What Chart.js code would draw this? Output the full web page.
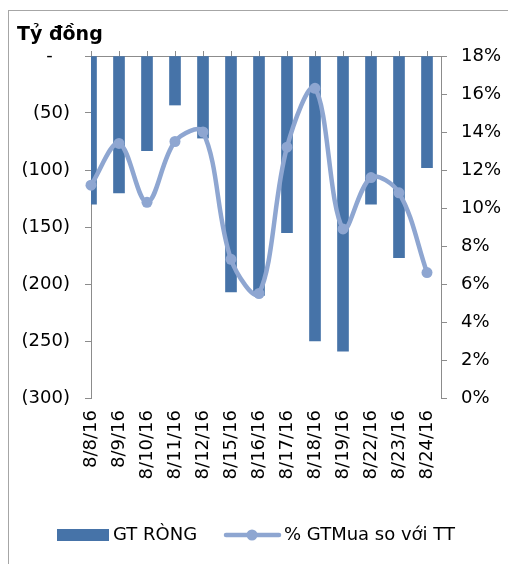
<!DOCTYPE html>
<html>
<head>
<meta charset="utf-8">
<script src="https://cdn.jsdelivr.net/npm/chart.js@4"></script>
<style>
  html, body { margin: 0; padding: 0; background: #fff; }
  #wrap { width: 508px; height: 564px; position: relative; }
</style>
</head>
<body>
<div id="wrap"><canvas id="c" width="508" height="564"></canvas></div>
<script>
const dates = ["8/8/16", "8/9/16", "8/10/16", "8/11/16", "8/12/16", "8/15/16", "8/16/16",
  "8/17/16", "8/18/16", "8/19/16", "8/22/16", "8/23/16", "8/24/16"];
const gtRong = [-130, -120, -83, -43, -72, -207, -210, -155, -250, -259, -130, -177, -98];
const pctMua = [11.2, 13.4, 10.3, 13.5, 14.0, 7.3, 5.5, 13.2, 16.3, 8.9, 11.6, 10.8, 6.6];

const barColor = "#4673a8";
const lineColor = "#8ea6d1";
const axisColor = "#8c8c8c";
const FONT = "DejaVu Sans";

function fmtLeft(v) {
  if (v === 0) return "-\u2007\u2008";
  return "(" + Math.abs(v) + ")";
}

const frame = {
  id: "frame",
  beforeDraw(chart) {
    const ctx = chart.ctx;
    ctx.save();
    ctx.fillStyle = "#fff";
    ctx.fillRect(0, 0, chart.width, chart.height);
    ctx.strokeStyle = "#a6a6a6";
    ctx.lineWidth = 1;
    ctx.strokeRect(8.5, 10.5, chart.width + 20, chart.height + 20);
    ctx.restore();
  },
  afterDraw(chart) {
    const ctx = chart.ctx;
    ctx.save();
    ctx.fillStyle = "#000";
    ctx.font = "bold 19px '" + FONT + "'";
    ctx.textBaseline = "middle";
    ctx.fillText("Tỷ đồng", 17, 35);

    // legend
    ctx.font = "18px '" + FONT + "'";
    ctx.fillStyle = barColor;
    ctx.fillRect(57, 529, 52, 12);
    ctx.fillStyle = "#000";
    ctx.fillText("GT RÒNG", 113, 535);
    ctx.strokeStyle = lineColor;
    ctx.lineWidth = 4.5;
    ctx.lineCap = "round";
    ctx.beginPath();
    ctx.moveTo(226, 535);
    ctx.lineTo(279, 535);
    ctx.stroke();
    ctx.fillStyle = lineColor;
    ctx.beginPath();
    ctx.arc(252, 535, 5.5, 0, Math.PI * 2);
    ctx.fill();
    ctx.fillStyle = "#000";
    ctx.fillText("% GTMua so với TT", 284, 535);
    ctx.restore();
  }
};

new Chart(document.getElementById("c"), {
  type: "bar",
  data: {
    datasets: [
      {
        type: "line",
        label: "% GTMua so với TT",
        data: dates.map((d, i) => ({ x: i, y: pctMua[i] })),
        xAxisID: "x",
        yAxisID: "y2",
        borderColor: lineColor,
        backgroundColor: lineColor,
        borderWidth: 4.5,
        pointRadius: 5.5,
        pointBorderWidth: 0,
        tension: 0.35,
        clip: false,
        order: 0
      },
      {
        label: "GT RÒNG",
        data: dates.map((d, i) => ({ x: i, y: gtRong[i] })),
        xAxisID: "x",
        yAxisID: "y",
        backgroundColor: barColor,
        barThickness: 11,
        clip: 0,
        order: 1
      }
    ]
  },
  options: {
    responsive: false,
    animation: false,
    layout: { padding: 0 },
    plugins: { legend: { display: false }, tooltip: { enabled: false } },
    scales: {
      x: {
        type: "linear",
        position: "bottom",
        min: 0,
        max: 12.5,
        offset: false,
        afterBuildTicks(s) { s.ticks = dates.map((d, i) => ({ value: i })); },
        afterFit(s) { s.height = 166; },
        ticks: {
          autoSkip: false,
          minRotation: 90,
          maxRotation: 90,
          padding: 12,
          color: "#000",
          font: { family: FONT, size: 18 },
          callback: (v) => dates[v]
        },
        grid: { display: false, drawTicks: false },
        border: { display: false }
      },
      xTop: {
        type: "linear",
        position: "top",
        min: 0,
        max: 12.5,
        offset: false,
        afterBuildTicks(s) { s.ticks = dates.map((d, i) => ({ value: i + 0.5 })); },
        afterFit(s) { s.height = 56; },
        ticks: { display: true, color: "rgba(0,0,0,0)", font: { size: 1 }, padding: 0 },
        grid: { drawOnChartArea: false, tickLength: 5, color: axisColor },
        border: { display: true, color: axisColor, width: 1 }
      },
      y: {
        position: "left",
        min: -300,
        max: 0,
        afterBuildTicks(s) {
          s.ticks = [0, -50, -100, -150, -200, -250, -300].map(v => ({ value: v }));
        },
        afterFit(s) { s.width = 91; },
        ticks: {
          padding: 15,
          color: "#000",
          font: { family: FONT, size: 18 },
          callback: fmtLeft
        },
        grid: { drawOnChartArea: false, tickLength: 6, color: axisColor },
        border: { display: true, color: axisColor, width: 1 }
      },
      y2: {
        position: "right",
        min: 0,
        max: 18,
        afterBuildTicks(s) {
          s.ticks = [0, 2, 4, 6, 8, 10, 12, 14, 16, 18].map(v => ({ value: v }));
        },
        afterFit(s) { s.width = 67; },
        ticks: {
          padding: 14,
          color: "#000",
          font: { family: FONT, size: 18 },
          callback: (v) => v + "%"
        },
        grid: { drawOnChartArea: false, tickLength: 6, color: axisColor },
        border: { display: true, color: axisColor, width: 1 }
      }
    }
  },
  plugins: [frame]
});
</script>
</body>
</html>
